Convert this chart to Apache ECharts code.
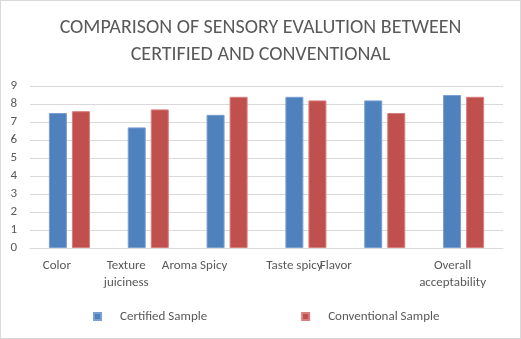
<!DOCTYPE html>
<html><head><meta charset="utf-8">
<script src="https://cdn.jsdelivr.net/npm/echarts@6/dist/echarts.min.js"></script>
<style>html,body{margin:0;padding:0;background:#fff}#c{width:521px;height:339px;box-sizing:border-box;border:1px solid #d9d9d9}</style>
</head><body><div id="c"></div>
<script>
const titleText = 'COMPARISON OF SENSORY EVALUTION BETWEEN\nCERTIFIED AND CONVENTIONAL';
const categories = ['Color', 'Texture\njuiciness', 'Aroma Spicy', 'Taste spicy', 'Flavor', 'Overall\nacceptability'];
const certified = [7.5, 6.7, 7.4, 8.4, 8.2, 8.5];
const conventional = [7.6, 7.7, 8.4, 8.2, 7.5, 8.4];
const seriesNames = ['Certified Sample', 'Conventional Sample'];
const yTicks = [0, 1, 2, 3, 4, 5, 6, 7, 8, 9];
const labelShift = [25, 44, 65, 23, 98, 22];

const font = 'Carlito, Lato, "Liberation Sans", sans-serif';
const chart = echarts.init(document.getElementById('c'));
chart.setOption({
  animation: false,
  title: {
    text: titleText, left: 'center', top: 8,
    textStyle: {fontFamily: font, fontSize: 20, fontWeight: 'normal', color: '#595959', lineHeight: 27}
  },
  legend: {
    left: 87, top: 304, itemWidth: 7, itemHeight: 7, itemGap: 94,
    icon: 'rect',
    textStyle: {fontFamily: font, fontSize: 13, color: '#595959', padding: [0, 0, 0, 14]},
    data: seriesNames
  },
  grid: {left: 29, right: 17, top: 85, bottom: 90, containLabel: false},
  xAxis: {
    type: 'category',
    data: categories.map((c, i) => ({value: c, textStyle: {padding: [0, labelShift[i], 0, 0]}})),
    axisLine: {lineStyle: {color: '#d9d9d9'}},
    axisTick: {show: false},
    axisLabel: {fontFamily: font, fontSize: 13, color: '#595959', lineHeight: 17, margin: 9, interval: 0}
  },
  yAxis: {
    type: 'value', min: yTicks[0], max: yTicks[yTicks.length - 1], interval: 1,
    axisLine: {show: false}, axisTick: {show: false},
    axisLabel: {fontFamily: font, fontSize: 13, color: '#595959', margin: 13},
    splitLine: {lineStyle: {color: '#d9d9d9'}}
  },
  series: [
    {name: seriesNames[0], type: 'bar', data: certified, barWidth: 18, barGap: '28%',
     itemStyle: {color: '#4f81bd', borderColor: '#7aa0d2', borderWidth: 1}},
    {name: seriesNames[1], type: 'bar', data: conventional, barWidth: 18,
     itemStyle: {color: '#c0504d', borderColor: '#d67f7d', borderWidth: 1}}
  ]
});
</script></body></html>
